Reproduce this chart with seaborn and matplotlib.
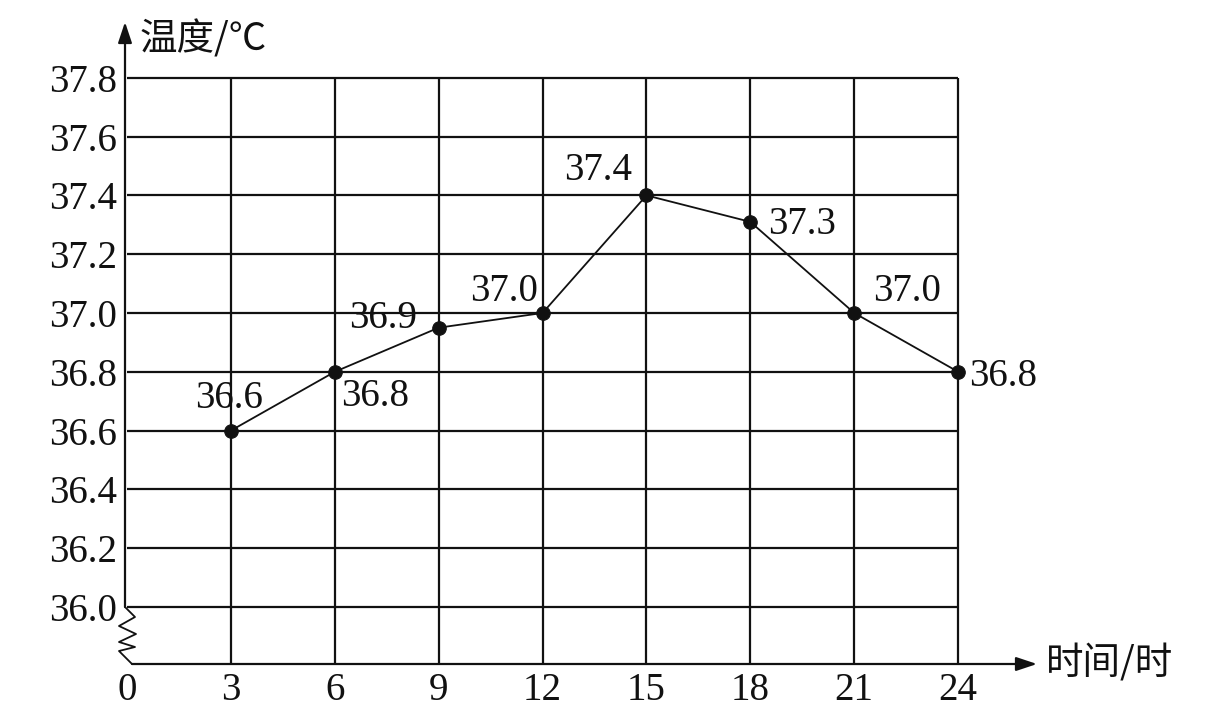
import matplotlib
matplotlib.use('Agg')
import matplotlib.pyplot as plt
import seaborn as sns
import pandas as pd

# ---- data ----
hours = [3, 6, 9, 12, 15, 18, 21, 24]
temps = [36.6, 36.8, 36.95, 37.0, 37.4, 37.31, 37.0, 36.8]
point_labels = ['36.6', '36.8', '36.9', '37.0', '37.4', '37.3', '37.0', '36.8']
x_ticks = [0, 3, 6, 9, 12, 15, 18, 21, 24]
x_tick_labels = ['0', '3', '6', '9', '12', '15', '18', '21', '24']
y_ticks = [36.0, 36.2, 36.4, 36.6, 36.8, 37.0, 37.2, 37.4, 37.6, 37.8]
y_tick_labels = ['36.0', '36.2', '36.4', '36.6', '36.8', '37.0', '37.2', '37.4', '37.6', '37.8']
y_title = '温度/℃'
x_title = '时间/时'

df = pd.DataFrame({'hour': hours, 'temp': temps})

sns.set_theme(style='white')
plt.rcParams['font.family'] = ['Liberation Serif', 'Noto Sans CJK SC', 'DejaVu Sans']

INK = '#111111'
W, H = 1227, 719
fig = plt.figure(figsize=(W / 100, H / 100), dpi=100, facecolor='white')

# pixel geometry of the reference
X0PX, XSCALE = 127.0, 34.63      # px of x=0, px per hour
Y36PX, YSCALE = 607.0, 58.8      # px of 36.0, px per 0.2 deg


def px2x(px):
    return (px - X0PX) / XSCALE


def py2y(py):
    return 36.0 + (Y36PX - py) / YSCALE * 0.2


left_px, right_px, top_px, bottom_px = 127, 1037, 22, 664
ax = fig.add_axes([left_px / W, (H - bottom_px) / H,
                   (right_px - left_px) / W, (bottom_px - top_px) / H])
ax.set_facecolor('white')
xmin, xmax = 0, px2x(right_px)
ymin, ymax = py2y(bottom_px), py2y(top_px)
ax.set_xlim(xmin, xmax)
ax.set_ylim(ymin, ymax)
for s in ax.spines.values():
    s.set_visible(False)

grid_lw = 1.6
# horizontal grid lines
for yv in y_ticks:
    ax.plot([px2x(125), x_ticks[-1]], [yv, yv], color=INK, lw=grid_lw,
            solid_capstyle='butt', zorder=1)
# vertical grid lines
for xv in x_ticks[1:]:
    ax.plot([xv, xv], [ymin, y_ticks[-1]], color=INK, lw=grid_lw,
            solid_capstyle='butt', zorder=1)

# y axis with arrow
ax.annotate('', xy=(px2x(125), ymax), xytext=(px2x(125), 36.0),
            arrowprops=dict(arrowstyle='-|>,head_length=0.9,head_width=0.3',
                            color=INK, lw=grid_lw, mutation_scale=14,
                            shrinkA=0, shrinkB=0), annotation_clip=False)
# x axis with arrow
ax.annotate('', xy=(xmax, ymin), xytext=(px2x(132), ymin),
            arrowprops=dict(arrowstyle='-|>,head_length=0.9,head_width=0.3',
                            color=INK, lw=grid_lw, mutation_scale=14,
                            shrinkA=0, shrinkB=0), annotation_clip=False)
# axis break zigzag
zz_px = [(125, 607), (135, 617), (119, 626), (136, 634), (119, 642),
         (135, 647), (119, 651), (132, 664)]
ax.plot([px2x(p[0]) for p in zz_px], [py2y(p[1]) for p in zz_px],
        color=INK, lw=1.3, clip_on=False, zorder=2)

# data line and points
sns.lineplot(data=df, x='hour', y='temp', ax=ax, color=INK, linewidth=1.3,
             zorder=3, legend=False)
sns.scatterplot(data=df, x='hour', y='temp', ax=ax, color=INK, s=95,
                edgecolor=INK, zorder=4, legend=False)

# value labels
offsets = [(-2, 23, 'center'), (6, -34, 'left'), (-22, 0, 'right'),
           (-5, 12, 'right'), (-14, 15, 'right'), (18, -12, 'left'),
           (19, 12, 'left'), (11, -14, 'left')]
for xv, yv, lab, (dx, dy, ha) in zip(hours, temps, point_labels, offsets):
    ax.annotate(lab, xy=(xv, yv), xytext=(dx, dy), textcoords='offset pixels',
                ha=ha, va='baseline', fontsize=28, color=INK, zorder=5)

# ticks
ax.set_xticks(x_ticks)
ax.set_xticklabels(x_tick_labels)
ax.set_yticks(y_ticks)
ax.set_yticklabels(y_tick_labels)
ax.tick_params(axis='both', length=0, labelsize=28, colors=INK)
ax.tick_params(axis='y', pad=7)
ax.tick_params(axis='x', pad=6)
ax.set_xlabel('')
ax.set_ylabel('')

# axis titles
ax.text(px2x(140), py2y(40), y_title, ha='left', va='center', fontsize=27,
        color=INK, family=['Noto Sans CJK SC', 'DejaVu Sans'])
ax.text(px2x(1046), py2y(664), x_title, ha='left', va='center', fontsize=27,
        color=INK, family=['Noto Sans CJK SC', 'DejaVu Sans'], clip_on=False)

fig.savefig('out.png', dpi=100, facecolor='white')
